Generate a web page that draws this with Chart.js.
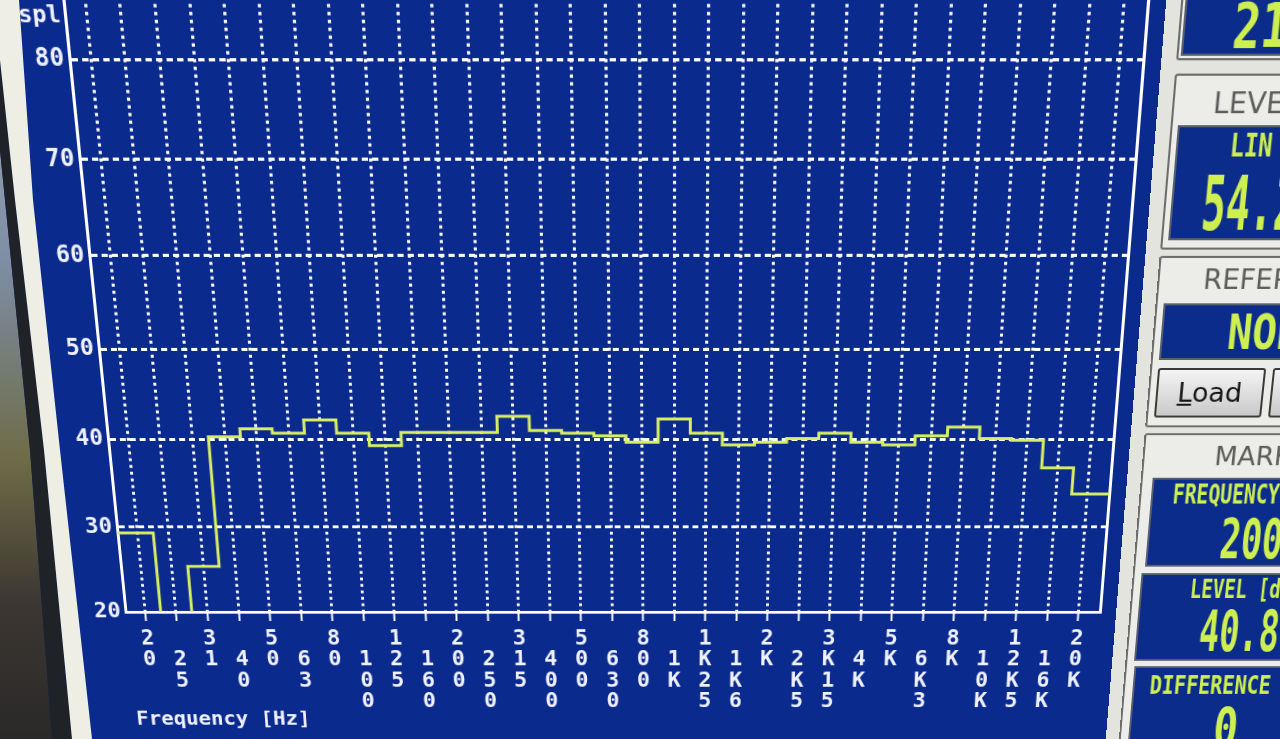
<!DOCTYPE html>
<html lang="en">
<head>
<meta charset="UTF-8">
<title>1/3 octave spectrum</title>
<script src="https://cdn.jsdelivr.net/npm/chart.js@4.4.1/dist/chart.umd.min.js"></script>
<style>
  html, body { margin: 0; padding: 0; }
  body { width: 1280px; height: 739px; overflow: hidden; position: relative; background: #0b2a8e; }
  /* the photo is taken at an angle: tilt the whole screen a little */
  #screen { position: absolute; left: 0; top: 0; width: 1380px; height: 820px; background: #0b2a8e;
    transform-origin: 674px 370px; transform: perspective(296px) rotateX(-3deg); }
  #wrap { position: absolute; left: 0; top: 0; width: 1160px; height: 800px; }
  #panel { position: absolute; left: 1136px; top: -60px; width: 260px; height: 900px; background: #e4e4df; }
  .grp { position: absolute; left: 1150px; width: 240px; border: 2px solid #6d6d6d; border-radius: 3px; background: #ecece8; }
  .hdr { position: absolute; color: #5c5c5c; font-family: 'DejaVu Sans', sans-serif; font-size: 27px; line-height: 30px; white-space: nowrap; }
  .box { position: absolute; width: 240px; background: #0c2c8c; border: 2px solid #59606c; }
  .lcd { position: absolute; color: #cdef52; font-family: 'DejaVu Sans Mono', monospace; font-weight: bold; white-space: nowrap; transform-origin: 0 50%; }
  .btn { position: absolute; top: 368px; height: 46px; border: 2px solid #3a3a3a; border-radius: 3px;
    background: linear-gradient(#f4f4f4, #c9c9c9); font-family: 'DejaVu Sans', sans-serif; font-size: 27px; line-height: 46px; color: #151515; }
  .edge { position: absolute; left: 0; top: 0; width: 120px; height: 739px; z-index: 5; }
</style>
</head>
<body>
<div id="screen">
  <div id="wrap"><canvas id="chart" width="1160" height="800"></canvas></div>
  <div id="panel"></div>

  <div class="grp" style="top:-20px;height:92px"></div>
  <div class="box" style="left:1154px;top:-20px;height:88px"></div>
  <div class="lcd" style="left:1201px;top:17px;font-size:56px;line-height:56px;transform:scaleX(0.78)">21</div>

  <div class="grp" style="top:88px;height:160px"></div>
  <div class="hdr" style="left:1189px;top:100px">LEVEL</div>
  <div class="box" style="left:1157px;top:135px;height:104px"></div>
  <div class="lcd" style="left:1209px;top:139px;font-size:30px;line-height:30px;transform:scaleX(0.75)">LIN</div>
  <div class="lcd" style="left:1187px;top:172px;font-size:72px;line-height:72px;transform:scaleX(0.54)">54.2</div>

  <div class="grp" style="top:258px;height:166px"></div>
  <div class="hdr" style="left:1195px;top:266px">REFERENCE</div>
  <div class="box" style="left:1158px;top:304px;height:52px"></div>
  <div class="lcd" style="left:1224px;top:308px;font-size:48px;line-height:48px;transform:scaleX(0.85)">NONE</div>
  <div class="btn" style="left:1158px;width:104px;text-align:center"><u>L</u>oad</div>
  <div class="btn" style="left:1273px;width:100px"></div>

  <div class="grp" style="top:434px;height:500px"></div>
  <div class="hdr" style="left:1223px;top:443px">MARKER</div>
  <div class="box" style="left:1162px;top:480px;height:90px"></div>
  <div class="lcd" style="left:1184px;top:484px;font-size:28px;line-height:28px;transform:scaleX(0.72)">FREQUENCY</div>
  <div class="lcd" style="left:1237px;top:516px;font-size:58px;line-height:58px;transform:scaleX(0.62)">200</div>
  <div class="box" style="left:1159px;top:581px;height:92px"></div>
  <div class="lcd" style="left:1211px;top:585px;font-size:28px;line-height:28px;transform:scaleX(0.7)">LEVEL [dB]</div>
  <div class="lcd" style="left:1225px;top:614px;font-size:62px;line-height:62px;transform:scaleX(0.56)">40.80</div>
  <div class="box" style="left:1160px;top:683px;height:200px"></div>
  <div class="lcd" style="left:1178px;top:691px;font-size:28px;line-height:28px;transform:scaleX(0.76)">DIFFERENCE</div>
  <div class="lcd" style="left:1250px;top:722px;font-size:62px;line-height:62px;transform:scaleX(0.7)">0</div>
</div>

<!-- monitor bezel on the left of the photo -->
<div class="edge" style="background:linear-gradient(#a7adb3 0%, #7d8ea6 35%, #6e6c48 62%, #3b3631 82%, #2a2929 100%);
  clip-path:polygon(0 150px, 5px 200px, 30px 450px, 52px 739px, 0 739px)"></div>
<div class="edge" style="background:#1f2328;
  clip-path:polygon(0 60px, 15px 200px, 44px 450px, 72px 739px, 52px 739px, 30px 450px, 5px 200px, 0 150px)"></div>
<div class="edge" style="background:#efeee4;
  clip-path:polygon(0 0, 19px 0, 33px 200px, 60px 450px, 92px 739px, 72px 739px, 44px 450px, 15px 200px, 0 60px)"></div>

<script>
    // 1/3 octave bands, as printed under the axis
    const bandLabels = ['20', '25', '31', '40', '50', '63', '80', '100', '125', '160', '200', '250', '315', '400',
        '500', '630', '800', '1K', '1K25', '1K6', '2K', '2K5', '3K15', '4K', '5K', '6K3', '8K', '10K', '12K5', '16K', '20K'];

    // level per band (dB spl) - 25 Hz is below the range of the plot
    const levels = [29.3, 14, 25.4, 40.3, 41.2, 40.7, 42.2, 40.7, 39.3, 40.8, 40.8, 40.8, 42.6, 41.0, 40.7,
        40.4, 39.7, 42.3, 40.7, 39.4, 39.7, 40.1, 40.7, 39.7, 39.4, 40.4, 41.4, 40.1, 39.9, 36.8, 33.8];

    const yTicks = [20, 30, 40, 50, 60, 70, 80];

    const X_MIN = -0.63, X_MAX = 30.68;
    const Y_MIN = 20, Y_MAX = 86.2;

    // each band is drawn as a flat step; the first and last run out to the frame
    const points = [{x: X_MIN, y: levels[0]}]
        .concat(levels.map((v, i) => ({x: i, y: v})))
        .concat([{x: X_MAX, y: levels[levels.length - 1]}]);

    const txt = '#eef1fb';
    const mono = {family: 'DejaVu Sans Mono', size: 23, weight: 'bold', lineHeight: 1.02};
    const monoY = {family: 'DejaVu Sans Mono', size: 23, weight: 'bold'};

    const splLabel = {
        id: 'splLabel',
        afterDraw(chart) {
            const ctx = chart.ctx;
            ctx.save();
            ctx.font = 'bold 22px "DejaVu Sans Mono"';
            ctx.fillStyle = txt;
            ctx.textBaseline = 'middle';
            ctx.fillText('spl', 57, 36);
            ctx.restore();
        }
    };

    new Chart(document.getElementById('chart'), {
        type: 'line',
        data: {
            datasets: [{
                data: points,
                stepped: 'middle',
                borderColor: '#d8ef63',
                borderWidth: 3,
                pointRadius: 0,
                fill: false
            }]
        },
        options: {
            responsive: false,
            animation: false,
            devicePixelRatio: 1,
            layout: {padding: {top: 10, left: 0, right: 0, bottom: 0}},
            plugins: {legend: {display: false}, tooltip: {enabled: false}},
            scales: {
                x: {
                    type: 'linear', position: 'bottom', min: X_MIN, max: X_MAX,
                    afterBuildTicks: s => { s.ticks = bandLabels.map((_, i) => ({value: i})); },
                    afterFit: s => { s.height = 177; },
                    ticks: {
                        autoSkip: false, maxRotation: 0, minRotation: 0, padding: 8, color: txt, font: mono,
                        callback: v => {
                            const i = Math.round(v);
                            const ch = bandLabels[i].split('');
                            return i % 2 ? [''].concat(ch) : ch;
                        }
                    },
                    grid: {color: '#ffffff', lineWidth: 3, tickLength: 10, tickColor: '#ffffff', tickWidth: 2},
                    border: {display: true, color: '#ffffff', width: 3, dash: [3, 4]},
                    title: {display: true, text: 'Frequency [Hz]', align: 'start', color: txt,
                        font: {family: 'DejaVu Sans Mono', size: 22, weight: 'bold'},
                        padding: {top: 0, bottom: 44}}
                },
                y: {
                    type: 'linear', position: 'left', min: Y_MIN, max: Y_MAX,
                    afterBuildTicks: s => { s.ticks = yTicks.map(v => ({value: v})); },
                    afterFit: s => { s.width = 101; },
                    ticks: {padding: 5, color: txt, font: monoY},
                    grid: {color: '#ffffff', lineWidth: 3, drawTicks: false},
                    border: {display: true, color: '#ffffff', width: 3, dash: [6, 4]}
                },
                yR: {
                    type: 'linear', position: 'right', min: Y_MIN, max: Y_MAX,
                    afterFit: s => { s.width = 41; },
                    ticks: {display: false},
                    grid: {display: false, drawTicks: false},
                    border: {display: true, color: '#ffffff', width: 3}
                }
            }
        },
        plugins: [splLabel]
    });
</script>
</body>
</html>
